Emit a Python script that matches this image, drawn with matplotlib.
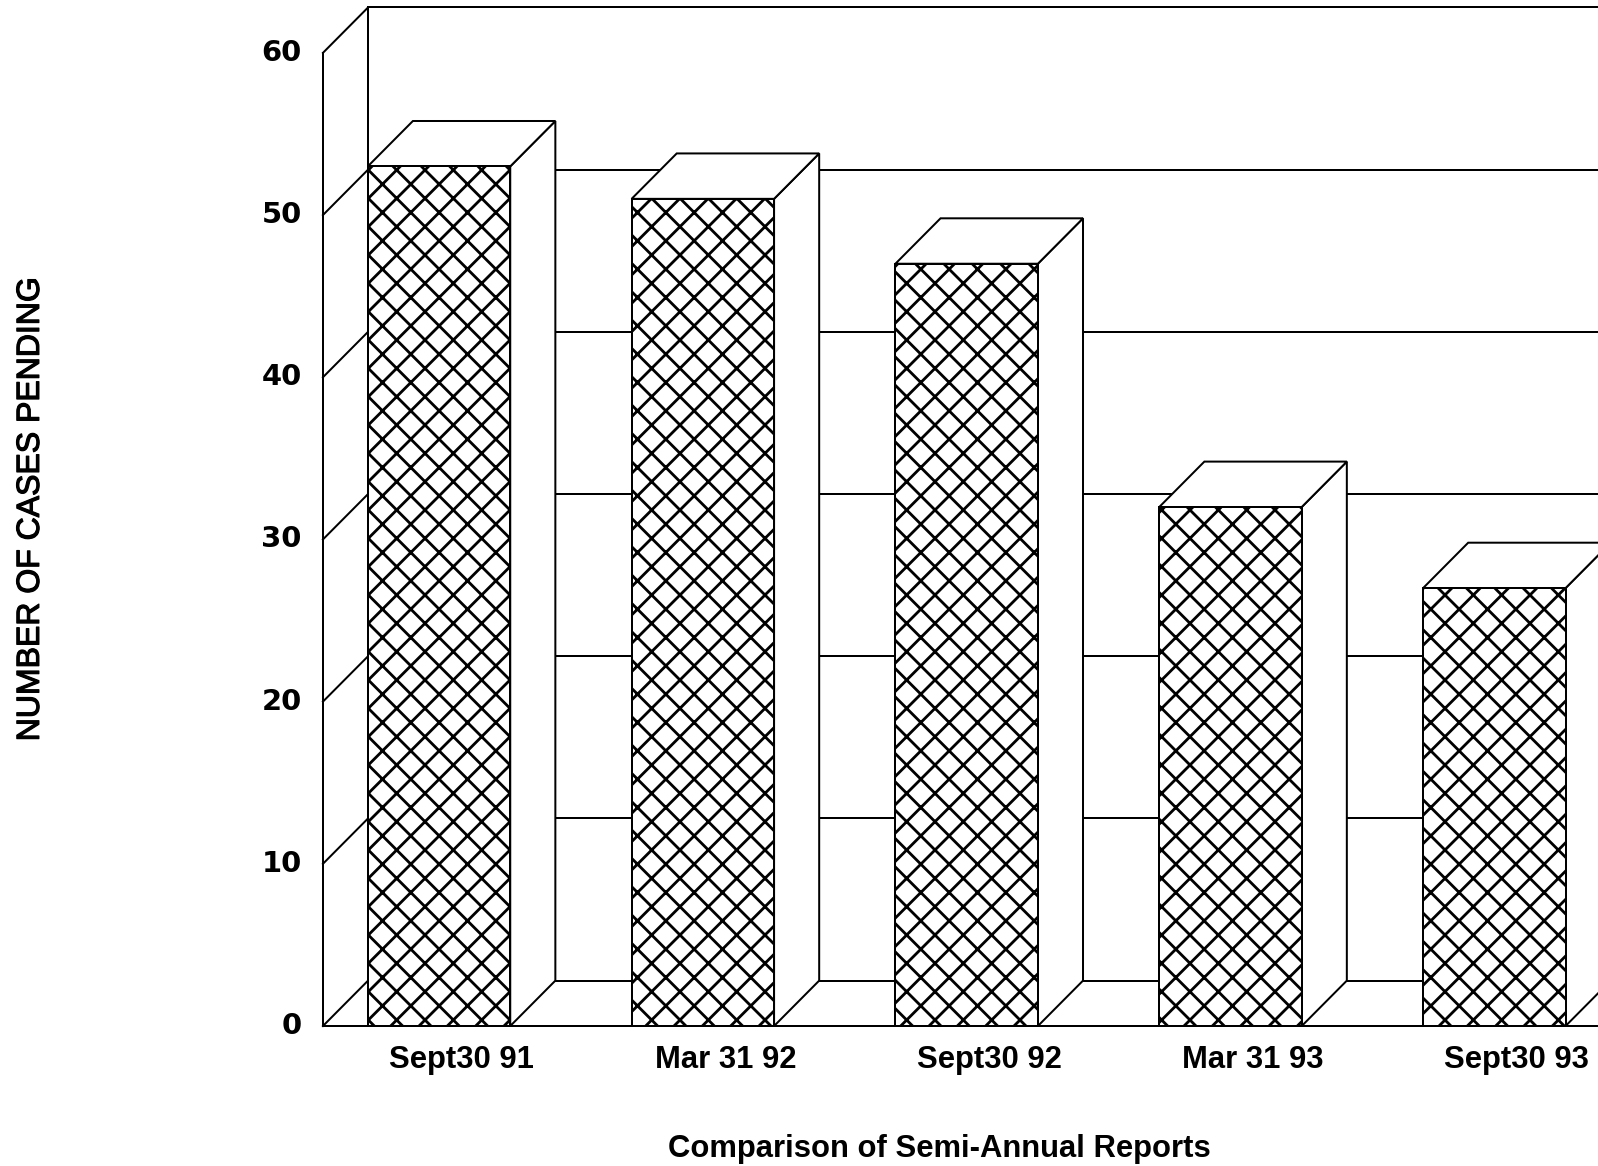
import matplotlib
matplotlib.use("Agg")
import matplotlib.pyplot as plt
import matplotlib.patheffects as pe
from matplotlib.patches import Polygon

# Cases pending at each semi-annual reporting date
categories = ["Sept30 91", "Mar 31 92", "Sept30 92", "Mar 31 93", "Sept30 93"]
cases_pending = [53, 51, 47, 32, 27]
y_ticks = [0, 10, 20, 30, 40, 50, 60]

DPI = 170


def pt(px):
    """Convert a size in output pixels to points."""
    return px * 72.0 / DPI


plt.rcParams["hatch.linewidth"] = pt(2.8)
plt.rcParams["font.family"] = ["Liberation Sans", "DejaVu Sans"]

fig = plt.figure(figsize=(1598 / DPI, 1166 / DPI), dpi=DPI)
ax = fig.add_axes([0, 0, 1, 1])
ax.set_xlim(-1.664, 4.393)
ax.set_ylim(-8.63, 63.26)
ax.axis("off")

LW = pt(2.0)
bar_w = 0.54
dx, dy = 0.171, 2.8          # oblique depth offset
wall_x = -0.44               # front edge of the left side wall
x_right = 4.5
ymax = y_ticks[-1]

# left side wall: front edge, back edge and diagonals at each tick level
ax.plot([wall_x, wall_x], [0, ymax], color="black", lw=LW, zorder=1)
ax.plot([wall_x + dx, wall_x + dx], [dy, ymax + dy], color="black", lw=LW, zorder=1)
for v in y_ticks:
    ax.plot([wall_x, wall_x + dx], [v, v + dy], color="black", lw=LW, zorder=1)
    # gridline on the back wall
    ax.plot([wall_x + dx, x_right], [v + dy, v + dy], color="black", lw=LW, zorder=1)
    ax.text(wall_x - 0.08, v, str(v), ha="right", va="center",
            fontsize=pt(29), fontweight="bold", family="DejaVu Sans", zorder=5)

# front edge of the floor
ax.plot([wall_x, x_right], [0, 0], color="black", lw=LW, zorder=4)

# bars: hatched front face plus white side and top faces
xs = list(range(len(categories)))
ax.bar(xs, cases_pending, width=bar_w, bottom=0, facecolor="white",
       edgecolor="black", hatch="xx", linewidth=LW, zorder=3)
for x, v in zip(xs, cases_pending):
    left, right = x - bar_w / 2, x + bar_w / 2
    side = Polygon([(right, 0), (right + dx, dy), (right + dx, v + dy), (right, v)],
                   closed=True, facecolor="white", edgecolor="black", lw=LW, zorder=2)
    top = Polygon([(left, v), (left + dx, v + dy), (right + dx, v + dy), (right, v)],
                  closed=True, facecolor="white", edgecolor="black", lw=LW, zorder=2)
    ax.add_patch(side)
    ax.add_patch(top)
    ax.text(x + dx / 2, -2.1, categories[x], ha="center", va="center",
            fontsize=pt(31), fontweight="bold", zorder=5)

ax.text(1.895, -7.6, "Comparison of Semi-Annual Reports", ha="center", va="center",
        fontsize=pt(31), fontweight="bold")
ax.text(-1.547, 31.87, "NUMBER OF CASES PENDING", ha="center", va="center",
        rotation=90, fontsize=pt(32),
        path_effects=[pe.withStroke(linewidth=pt(1.2), foreground="black")])

fig.savefig("out.png", dpi=DPI, facecolor="white")
